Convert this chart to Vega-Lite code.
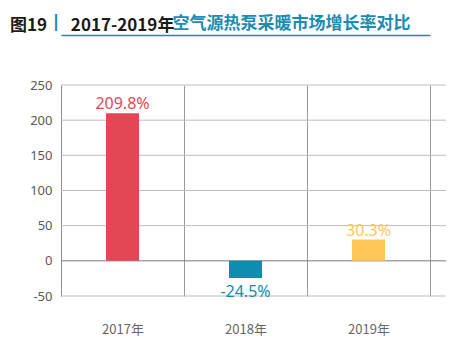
{
  "$schema": "https://vega.github.io/schema/vega-lite/v6.json",
  "autosize": "none",
  "width": 385,
  "height": 211,
  "padding": {"left": 61, "top": 85, "right": 21, "bottom": 62},
  "background": "white",
  "title": {
    "text": "图19\u2003\u2009\u20092017-2019年",
    "subtitle": "\u200b\u2003\u2003\u2009\u2503",
    "anchor": "start",
    "frame": "group",
    "dx": -51,
    "offset": -23,
    "font": "Noto Sans CJK SC",
    "fontSize": 17,
    "fontWeight": "bold",
    "color": "#1a1a1a",
    "subtitleFont": "Noto Sans CJK SC",
    "subtitleFontSize": 17,
    "subtitleFontWeight": "normal",
    "subtitleColor": "#1a8db0",
    "subtitlePadding": -19
  },
  "config": {"view": {"stroke": null}},
  "encoding": {
    "y": {
      "field": "value", "type": "quantitative", "scale": {"domain": [-50, 250], "nice": false},
      "axis": {"values": [-50, 0, 50, 100, 150, 200, 250], "labelExpr": "'' + datum.value", "grid": false, "ticks": false, "domain": true, "domainColor": "#8c8c8c", "labelColor": "#595959", "labelFont": "Noto Sans", "labelFontSize": 13, "labelPadding": 9, "title": null}
    }
  },
  "layer": [
    {
      "data": {"values": [{"value": -50}, {"value": 0}, {"value": 50}, {"value": 100}, {"value": 150}, {"value": 200}, {"value": 250}]},
      "mark": {"type": "rule", "strokeWidth": 1},
      "encoding": {
        "color": {"condition": {"test": "datum.value === 0", "value": "#7a7a7a"}, "value": "#bdbdbd"}
      }
    },
    {
      "data": {"values": [{"year": "2017年", "value": 209.8}, {"year": "2018年", "value": -24.5}, {"year": "2019年", "value": 30.3}]},
      "mark": {"type": "bar", "size": 33},
      "encoding": {
        "x": {
          "field": "year", "type": "nominal", "sort": null,
          "scale": {"range": [0, 369], "paddingInner": 0, "paddingOuter": 0},
          "axis": {"orient": "bottom", "tickBand": "extent", "grid": true, "gridColor": "#9a9a9a", "ticks": false, "domain": false, "labelAngle": 0, "labelPadding": 27, "labelColor": "#666666", "labelFontSize": 13, "labelFont": "Noto Sans CJK SC", "title": null}
        },
        "color": {"field": "year", "type": "nominal", "scale": {"domain": ["2017年", "2018年", "2019年"], "range": ["#e34655", "#0d8db0", "#ffc65a"]}, "legend": null}
      }
    },
    {
      "data": {"values": [{"year": "2017年", "value": 209.8, "label": "209.8%"}, {"year": "2018年", "value": -24.5, "label": "-24.5%"}, {"year": "2019年", "value": 30.3, "label": "30.3%"}]},
      "transform": [{"filter": "datum.value >= 0"}],
      "mark": {"type": "text", "font": "Noto Sans", "fontSize": 16, "baseline": "alphabetic", "dy": -4},
      "encoding": {
        "x": {
          "field": "year", "type": "nominal", "sort": null,
          "axis": {"orient": "top", "labels": false, "ticks": false, "grid": false, "domain": true, "domainColor": "#1a8db0", "domainWidth": 1.5, "offset": 50,
            "title": "空气源热泵采暖市场增长率对比", "titleColor": "#1a8db0", "titleFont": "Noto Sans CJK SC", "titleFontSize": 17, "titleFontWeight": "bold", "titleAlign": "left", "titleAnchor": "start", "titleBaseline": "alphabetic", "titleAngle": 0, "titleX": 111, "titleY": -7}
        },
        "text": {"field": "label"},
        "color": {"field": "year", "type": "nominal", "legend": null}
      }
    },
    {
      "data": {"values": [{"year": "2017年", "value": 209.8, "label": "209.8%"}, {"year": "2018年", "value": -24.5, "label": "-24.5%"}, {"year": "2019年", "value": 30.3, "label": "30.3%"}]},
      "transform": [{"filter": "datum.value < 0"}],
      "mark": {"type": "text", "font": "Noto Sans", "fontSize": 16, "baseline": "alphabetic", "dy": 19},
      "encoding": {
        "x": {"field": "year", "type": "nominal", "sort": null, "axis": null},
        "text": {"field": "label"},
        "color": {"field": "year", "type": "nominal", "legend": null}
      }
    }
  ],
  "resolve": {"axis": {"x": "independent"}}
}
